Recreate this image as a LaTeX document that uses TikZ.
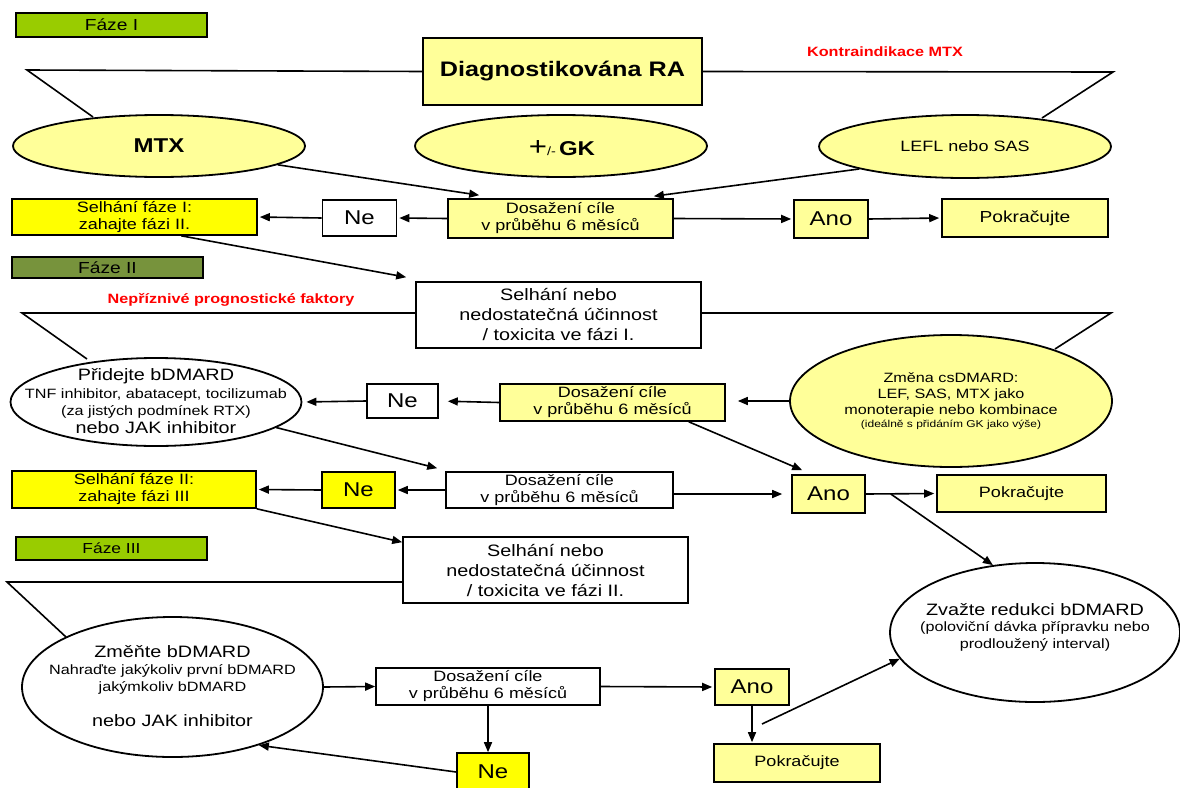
\documentclass[tikz,border=0pt]{standalone}
\usepackage{fontspec}
\setmainfont{Liberation Sans}[FakeStretch=1.2]
\usetikzlibrary{shapes.geometric,arrows.meta,calc}
\definecolor{ly}{HTML}{FFFF99}
\definecolor{yy}{HTML}{FFFF00}
\definecolor{gr}{HTML}{99CC00}
\definecolor{ol}{HTML}{77933C}
\definecolor{rd}{HTML}{FF0000}
\pgfdeclarelayer{paper}
\pgfdeclarelayer{bg}
\pgfsetlayers{paper,bg,main}
\begin{document}
\begin{tikzpicture}[x=1pt,y=-1pt,line width=1.6pt,
  sz/.style 2 args={minimum width=#1pt,minimum height=#2pt},
  box/.style={draw,line width=1.6pt,rectangle,inner sep=0pt,align=center},
  oval/.style={draw,line width=1.8pt,ellipse,inner sep=0pt},
  arr/.style={-{Triangle[length=10pt,width=8pt]}},
  phase/.style={box,font=\fontsize{16}{18}\selectfont},
  warn/.style={text=rd,font=\bfseries\fontsize{13.5}{16}\selectfont},
  t15/.style={font=\fontsize{15}{17}\selectfont},
  t20/.style={font=\fontsize{20}{22}\selectfont},
  t16/.style={font=\fontsize{16.5}{20}\selectfont},
  ovaltext/.style={align=center,inner sep=0pt}
]
\begin{pgfonlayer}{paper}
\fill[white] (0,0) rectangle (1180,787);
\end{pgfonlayer}
\useasboundingbox (0,0) rectangle (1180,787);

% phase labels
\node[phase,fill=gr,sz={191}{24}] (f1) at (111.5,25) {Fáze I};
\node[phase,fill=ol,sz={191}{21}] (f2) at (107.5,267.5) {Fáze II};
\node[box,fill=gr,sz={191}{23},font=\fontsize{14.5}{16}\selectfont] (f3) at (111.5,548.5) {Fáze III};

% phase I
\node[box,fill=ly,sz={279}{67},font=\bfseries\fontsize{21}{24}\selectfont] (dg) at (562.5,71.5) {Diagnostikována RA};
\node[warn] (kontra) at (885,52) {Kontraindikace MTX};
\node[oval,fill=ly,sz={292}{62}] (mtx) at (159,146) {};
\node[ovaltext,font=\bfseries\fontsize{20}{22}\selectfont] (mtxT) at (159,146) {MTX};
\node[oval,fill=ly,sz={292}{62}] (gk) at (561,146) {};
\node[ovaltext] (gkT) at (562,148) {{\fontsize{26}{26}\selectfont +}{\fontsize{12}{12}\selectfont /-}\hspace{3pt}{\bfseries\fontsize{20}{22}\selectfont GK}};
\node[oval,fill=ly,sz={292}{63}] (lefl) at (965,146.5) {};
\node[ovaltext,font=\fontsize{15}{17}\selectfont] (leflT) at (965,146.5) {LEFL nebo SAS};

\node[box,fill=ly,sz={225}{39},t15] (d1) at (560.5,218.5) {Dosažení cíle\\v průběhu 6 měsíců};
\node[box,fill=white,sz={74}{36},t20] (ne1) at (359.5,218) {Ne};
\node[box,fill=yy,sz={245}{36},t15] (self1) at (134.5,217) {Selhání fáze I:\\zahajte fázi II.};
\node[box,fill=ly,sz={74}{38},t20] (ano1) at (831,219) {Ano};
\node[box,fill=ly,sz={166}{38},font=\fontsize{16}{18}\selectfont] (pok1) at (1025,218) {Pokračujte};

% phase II
\node[box,fill=white,sz={285}{66},t16] (sn1) at (558.5,315) {Selhání nebo\\nedostatečná účinnost\\/ toxicita ve fázi I.};
\node[warn] (nep) at (231,300) {Nepříznivé prognostické faktory};
\node[oval,fill=white,sz={291}{88}] (prid) at (156,402) {};
\node[ovaltext,font=\fontsize{13.5}{17.5}\selectfont] (pridT) at (156,401) {{\fontsize{16.5}{17.5}\selectfont Přidejte bDMARD}\\TNF inhibitor, abatacept, tocilizumab\\(za jistých podmínek RTX)\\{\fontsize{16.5}{17.5}\selectfont nebo JAK inhibitor}};
\node[box,fill=white,sz={71}{34},t20] (ne2) at (402.5,401) {Ne};
\node[box,fill=ly,sz={225}{37},t15] (d2) at (612.5,402.5) {Dosažení cíle\\v průběhu 6 měsíců};
\node[oval,fill=ly,sz={322}{132}] (zm) at (951,401) {};
\node[ovaltext,font=\fontsize{13.5}{16}\selectfont] (zmT) at (951,401) {Změna csDMARD:\\LEF, SAS, MTX jako\\monoterapie nebo kombinace\\[-3pt]{\fontsize{10}{12}\selectfont (ideálně s přidáním GK jako výše)}};

\node[box,fill=white,sz={227}{36},t15] (d3) at (559.5,490) {Dosažení cíle\\v průběhu 6 měsíců};
\node[box,fill=yy,sz={73}{36},t20] (ne3) at (358.5,490) {Ne};
\node[box,fill=yy,sz={244}{37},t15] (self2) at (134,489.5) {Selhání fáze II:\\zahajte fázi III};
\node[box,fill=ly,sz={73}{38},t20] (ano2) at (828.5,494) {Ano};
\node[box,fill=ly,sz={169}{37},t15] (pok2) at (1021.5,493.5) {Pokračujte};

% phase III
\node[box,fill=white,sz={285}{66},t16] (sn2) at (545.5,570) {Selhání nebo\\nedostatečná účinnost\\/ toxicita ve fázi II.};
\node[oval,fill=white,sz={301}{140}] (zmn) at (172.5,687) {};
\node[ovaltext,font=\fontsize{13.5}{17}\selectfont] (zmnT) at (172.5,686) {{\fontsize{16.5}{17}\selectfont Změňte bDMARD}\\Nahraďte jakýkoliv první bDMARD\\jakýmkoliv bDMARD\\[18pt]{\fontsize{16.5}{17}\selectfont nebo JAK inhibitor}};
\node[box,fill=white,sz={224}{37},t15] (d4) at (488,686.5) {Dosažení cíle\\v průběhu 6 měsíců};
\node[box,fill=ly,sz={74}{36},t20] (ano3) at (752,687) {Ano};
\node[box,fill=ly,sz={166}{38},t15] (pok3) at (797,763) {Pokračujte};
\node[box,fill=yy,sz={72}{38},t20] (ne4) at (493,772) {Ne};
\node[oval,fill=white,sz={290}{139}] (zv) at (1035,632.5) {};
\node[ovaltext,font=\fontsize{13.5}{16.5}\selectfont] (zvT) at (1035,627) {{\fontsize{16.5}{17}\selectfont Zvažte redukci bDMARD}\\(poloviční dávka přípravku nebo\\prodloužený interval)};

% free coordinates
\coordinate (c1) at (27,70);
\coordinate (c2) at (93,117);
\coordinate (c3) at (1113,72);
\coordinate (c4) at (1042,118);
\coordinate (c5) at (22,313);
\coordinate (c6) at (87,359);
\coordinate (c7) at (1111,313);
\coordinate (c8) at (1055,349);
\coordinate (c9) at (7,582);
\coordinate (c10) at (66,637);
\coordinate (zs) at (762,724);

\begin{pgfonlayer}{bg}
\begin{scope}[line width=1.6pt,draw=black]
% brackets
\draw (dg.west) -- (c1) -- (c2);
\draw (dg.east) -- (c3) -- (c4);
\draw ([yshift=2pt]sn1.west) -- (c5) -- (c6);
\draw ([yshift=2pt]sn1.east) -- (c7) -- (c8);
\draw ([yshift=-12pt]sn2.west) -- (c9) -- (c10);

% phase I arrows
\draw[arr] (mtx.-9) -- ([xshift=32pt,yshift=3pt]d1.north west);
\draw[arr] (lefl.192) -- ([xshift=-20pt,yshift=2pt]d1.north east);
\draw[arr,shorten >=2pt] (d1.west) -- (ne1.east);
\draw[arr,shorten >=2pt] (ne1.west) -- (self1.east);
\draw[arr,shorten >=2pt] (d1.east) -- (ano1.west);
\draw[arr,shorten >=2pt] (ano1.east) -- (pok1.west);
\draw[arr] ([xshift=170pt]self1.south west) -- ([xshift=-9pt,yshift=4pt]sn1.north west);

% phase II arrows
\draw[arr,shorten >=12pt] (zm.west) -- (zm.west -| d2.east);
\draw[arr,shorten >=9pt] (d2.west) -- (ne2.east);
\draw[arr,shorten >=4pt] (ne2.west) -- (prid.east);
\draw[arr] ([xshift=-37pt]d2.south east) -- ([xshift=11pt,yshift=4pt]ano2.north west);
\draw[arr] (prid.-12) -- ([xshift=-8pt,yshift=3pt]d3.north west);
\draw[arr,shorten >=2pt] (d3.west) -- (ne3.east);
\draw[arr,shorten >=2pt] (ne3.west) -- (self2.east);
\draw[arr,shorten >=9pt] (d3.east |- ano2.west) -- (ano2.west);
\draw[arr,shorten >=2pt] (ano2.east) -- (pok2.west);
\draw[arr] ([xshift=25pt]ano2.east) -- (zv.122);
\draw[arr] (self2.south east) -- ([yshift=-6pt]sn2.north west);

% phase III arrows
\draw[arr] (zmn.east) -- (d4.west);
\draw[arr] (d4.south) -- (d4.south |- ne4.north);
\draw[arr] (ne4.west) -- (zmn.-34);
\draw[arr,shorten >=2pt] (d4.east) -- (ano3.west);
\draw[arr,shorten >=1pt] (ano3.south) -- (ano3.south |- pok3.north);
\draw[arr] (zs) -- (zv.191);
\end{scope}
\end{pgfonlayer}
\end{tikzpicture}
\end{document}
